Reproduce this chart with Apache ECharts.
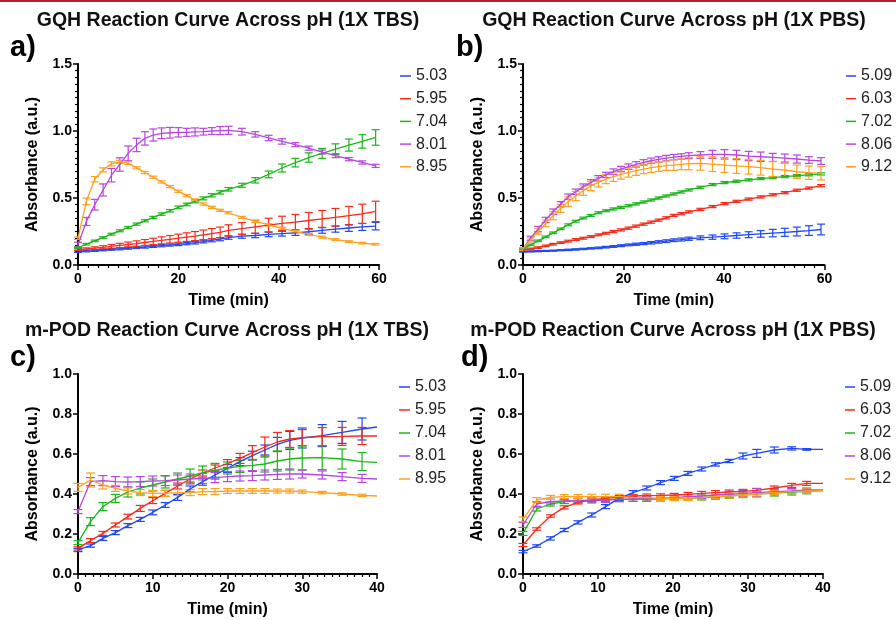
<!DOCTYPE html>
<html><head><meta charset="utf-8">
<script src="https://cdn.jsdelivr.net/npm/echarts/dist/echarts.min.js"></script>
<style>html,body{margin:0;padding:0;background:#fff;}#c{width:896px;height:620px;}</style>
</head><body><div id="c"></div>
<script>
// ---------- Panel a: GQH, 1X TBS ----------
const tA = [0,1.67,3.33,5,6.67,8.33,10,11.67,13.33,15,16.67,18.33,20,21.67,23.33,25,26.67,28.33,30,32.67,35.33,38,40.67,43.33,46,48.67,51.33,54,56.67,59.33];
const aBlue = [0.100,0.104,0.108,0.112,0.116,0.120,0.125,0.130,0.134,0.139,0.144,0.149,0.154,0.160,0.167,0.175,0.184,0.193,0.205,0.215,0.220,0.228,0.234,0.240,0.248,0.258,0.268,0.276,0.284,0.290];
const aBlueErr = [0.006,0.006,0.006,0.006,0.006,0.007,0.007,0.007,0.008,0.008,0.008,0.008,0.009,0.009,0.010,0.010,0.011,0.012,0.013,0.015,0.016,0.017,0.018,0.019,0.020,0.021,0.023,0.025,0.026,0.028];
const aRed = [0.115,0.120,0.126,0.132,0.139,0.146,0.153,0.160,0.168,0.176,0.184,0.192,0.200,0.208,0.216,0.225,0.234,0.243,0.258,0.272,0.285,0.298,0.310,0.320,0.332,0.344,0.356,0.368,0.382,0.400];
const aRedErr = [0.006,0.008,0.010,0.012,0.014,0.016,0.018,0.020,0.022,0.024,0.026,0.028,0.030,0.032,0.034,0.036,0.038,0.040,0.042,0.045,0.048,0.051,0.054,0.057,0.060,0.063,0.066,0.069,0.072,0.076];
const aGreen = [0.130,0.155,0.180,0.205,0.230,0.255,0.280,0.305,0.330,0.355,0.380,0.405,0.430,0.452,0.475,0.497,0.520,0.542,0.565,0.595,0.632,0.676,0.724,0.764,0.802,0.833,0.864,0.895,0.922,0.952];
const aGreenErr = [0.006,0.006,0.006,0.006,0.007,0.007,0.007,0.008,0.008,0.008,0.009,0.009,0.010,0.010,0.011,0.011,0.012,0.012,0.013,0.015,0.020,0.025,0.030,0.032,0.035,0.037,0.040,0.045,0.050,0.058];
const aPurple = [0.150,0.325,0.450,0.560,0.670,0.750,0.833,0.896,0.945,0.970,0.983,0.987,0.990,0.990,0.993,0.995,1.000,1.003,1.005,0.995,0.975,0.948,0.922,0.898,0.872,0.843,0.816,0.790,0.765,0.740];
const aPurpleErr = [0.020,0.030,0.040,0.045,0.050,0.050,0.055,0.050,0.050,0.045,0.040,0.040,0.035,0.030,0.030,0.025,0.025,0.030,0.030,0.025,0.020,0.020,0.020,0.015,0.015,0.015,0.015,0.012,0.012,0.012];
const aOrange = [0.200,0.475,0.640,0.710,0.755,0.770,0.760,0.725,0.690,0.655,0.620,0.585,0.550,0.518,0.485,0.455,0.430,0.408,0.390,0.355,0.326,0.300,0.274,0.250,0.228,0.208,0.190,0.175,0.163,0.155];
const aOrangeErr = [0.010,0.025,0.020,0.015,0.015,0.012,0.010,0.008,0.008,0.008,0.008,0.008,0.008,0.008,0.008,0.008,0.008,0.008,0.008,0.008,0.008,0.008,0.008,0.008,0.008,0.008,0.006,0.006,0.006,0.006];
const aNames = ['5.03','5.95','7.04','8.01','8.95'];

// ---------- Panel b: GQH, 1X PBS ----------
const tB = [0,1.5,3,4.5,6,7.5,9,10.5,12,13.5,15,16.5,18,19.5,21,22.5,24,25.5,27,28.5,30,31.5,33,35.3,37.7,40.1,42.5,44.9,47.3,49.7,52.1,54.5,56.9,59.3];
const bBlue = [0.100,0.101,0.103,0.105,0.107,0.110,0.113,0.116,0.120,0.124,0.128,0.133,0.138,0.144,0.150,0.155,0.160,0.166,0.172,0.178,0.185,0.190,0.196,0.203,0.208,0.214,0.220,0.226,0.232,0.238,0.244,0.250,0.257,0.265];
const bBlueErr = [0.004,0.004,0.004,0.004,0.004,0.004,0.005,0.005,0.005,0.005,0.006,0.006,0.006,0.007,0.007,0.008,0.008,0.009,0.009,0.010,0.010,0.011,0.012,0.014,0.016,0.018,0.020,0.022,0.025,0.028,0.030,0.033,0.036,0.040];
const bRed = [0.110,0.120,0.130,0.143,0.155,0.167,0.178,0.190,0.200,0.212,0.225,0.237,0.250,0.262,0.275,0.290,0.305,0.320,0.335,0.352,0.370,0.383,0.396,0.415,0.436,0.458,0.475,0.492,0.508,0.524,0.540,0.558,0.574,0.592];
const bRedErr = [0.006,0.006,0.006,0.006,0.006,0.006,0.007,0.007,0.007,0.007,0.007,0.007,0.008,0.008,0.008,0.008,0.008,0.008,0.008,0.008,0.008,0.008,0.008,0.008,0.008,0.008,0.008,0.008,0.008,0.008,0.008,0.008,0.008,0.008];
const bGreen = [0.120,0.150,0.180,0.210,0.240,0.270,0.300,0.327,0.350,0.370,0.390,0.405,0.418,0.430,0.442,0.456,0.470,0.485,0.500,0.515,0.530,0.545,0.560,0.580,0.600,0.615,0.625,0.635,0.645,0.652,0.660,0.667,0.673,0.680];
const bGreenErr = [0.006,0.006,0.006,0.006,0.006,0.006,0.007,0.007,0.007,0.007,0.007,0.007,0.008,0.008,0.008,0.008,0.008,0.008,0.008,0.008,0.008,0.008,0.008,0.008,0.008,0.008,0.008,0.008,0.008,0.008,0.008,0.008,0.008,0.008];
const bPurple = [0.120,0.200,0.268,0.336,0.398,0.453,0.510,0.547,0.585,0.617,0.647,0.672,0.697,0.716,0.734,0.751,0.766,0.778,0.788,0.798,0.805,0.810,0.816,0.821,0.826,0.826,0.821,0.813,0.808,0.803,0.798,0.791,0.783,0.776];
const bPurpleErr = [0.010,0.015,0.020,0.020,0.020,0.020,0.020,0.020,0.020,0.020,0.020,0.020,0.020,0.020,0.020,0.020,0.020,0.020,0.020,0.020,0.020,0.020,0.022,0.025,0.030,0.035,0.035,0.035,0.035,0.030,0.030,0.030,0.025,0.025];
const bOrange = [0.120,0.187,0.250,0.311,0.368,0.423,0.473,0.515,0.555,0.590,0.617,0.642,0.659,0.676,0.691,0.704,0.716,0.726,0.734,0.741,0.746,0.751,0.756,0.758,0.753,0.746,0.739,0.734,0.726,0.716,0.709,0.696,0.689,0.684];
const bOrangeErr = [0.010,0.015,0.020,0.025,0.030,0.030,0.035,0.035,0.035,0.035,0.035,0.035,0.035,0.035,0.035,0.035,0.035,0.035,0.035,0.035,0.040,0.040,0.045,0.050,0.055,0.055,0.055,0.055,0.055,0.055,0.050,0.050,0.050,0.050];
const bNames = ['5.09','6.03','7.02','8.06','9.12'];

// ---------- Panel c: m-POD, 1X TBS ----------
const tC = [0,1.67,3.33,5,6.67,8.33,10,11.67,13.33,15,16.67,18.33,20,21.67,23.33,25,26.67,28.33,30,32.67,35.33,38,40];
const cBlue = [0.120,0.142,0.178,0.207,0.242,0.273,0.308,0.345,0.383,0.425,0.462,0.495,0.528,0.562,0.592,0.620,0.648,0.668,0.680,0.692,0.708,0.725,0.735];
const cBlueErr = [0.008,0.008,0.010,0.010,0.010,0.010,0.012,0.012,0.015,0.015,0.018,0.020,0.020,0.020,0.022,0.025,0.035,0.045,0.050,0.055,0.055,0.055,0];
const cRed = [0.128,0.167,0.203,0.245,0.287,0.328,0.367,0.403,0.440,0.475,0.505,0.530,0.552,0.578,0.607,0.635,0.660,0.675,0.682,0.687,0.688,0.690,0.690];
const cRedErr = [0.008,0.010,0.010,0.010,0.012,0.015,0.015,0.015,0.015,0.015,0.015,0.015,0.020,0.025,0.035,0.050,0.048,0.042,0.040,0.045,0.045,0.043,0];
const cGreen = [0.157,0.262,0.337,0.378,0.410,0.430,0.445,0.460,0.475,0.490,0.505,0.518,0.530,0.538,0.543,0.550,0.565,0.575,0.580,0.582,0.575,0.562,0.558];
const cGreenErr = [0.010,0.020,0.020,0.020,0.025,0.030,0.030,0.030,0.030,0.035,0.035,0.035,0.030,0.030,0.030,0.040,0.050,0.055,0.060,0.060,0.050,0.045,0];
const cPurple = [0.312,0.462,0.467,0.462,0.460,0.462,0.465,0.467,0.470,0.475,0.478,0.482,0.487,0.490,0.492,0.495,0.498,0.500,0.500,0.495,0.487,0.478,0.475];
const cPurpleErr = [0.010,0.020,0.025,0.025,0.025,0.025,0.025,0.025,0.025,0.025,0.025,0.025,0.025,0.025,0.025,0.025,0.025,0.025,0.020,0.020,0.020,0.020,0];
const cOrange = [0.433,0.470,0.445,0.428,0.415,0.407,0.403,0.403,0.407,0.407,0.412,0.412,0.415,0.415,0.415,0.415,0.415,0.415,0.412,0.407,0.400,0.393,0.390];
const cOrangeErr = [0.020,0.035,0.020,0.015,0.015,0.015,0.015,0.015,0.015,0.015,0.015,0.015,0.012,0.012,0.012,0.012,0.010,0.010,0.008,0.006,0.006,0.006,0];
const cNames = ['5.03','5.95','7.04','8.01','8.95'];

// ---------- Panel d: m-POD, 1X PBS ----------
const tD = [0,1.83,3.67,5.5,7.33,9.17,11,12.83,14.67,16.5,18.33,20.17,22,23.83,25.67,27.5,29.33,31.17,33.5,35.83,37.83,40];
const dBlue = [0.112,0.140,0.178,0.220,0.258,0.295,0.337,0.378,0.407,0.430,0.457,0.478,0.503,0.525,0.548,0.565,0.590,0.603,0.620,0.628,0.623,0.623];
const dBlueErr = [0.006,0.006,0.008,0.008,0.008,0.010,0.010,0.010,0.010,0.010,0.010,0.010,0.010,0.010,0.008,0.008,0.015,0.020,0.015,0.008,0.004,0];
const dRed = [0.145,0.225,0.290,0.333,0.358,0.370,0.378,0.385,0.390,0.392,0.393,0.395,0.398,0.403,0.407,0.410,0.413,0.418,0.430,0.443,0.453,0.453];
const dRedErr = [0.008,0.006,0.006,0.008,0.008,0.008,0.008,0.008,0.008,0.008,0.008,0.008,0.010,0.010,0.010,0.010,0.010,0.010,0.010,0.010,0.010,0];
const dGreen = [0.203,0.325,0.350,0.362,0.367,0.370,0.372,0.373,0.374,0.375,0.376,0.377,0.378,0.382,0.386,0.390,0.396,0.400,0.405,0.410,0.413,0.417];
const dGreenErr = [0.010,0.010,0.010,0.010,0.010,0.010,0.010,0.010,0.010,0.010,0.010,0.010,0.010,0.012,0.012,0.012,0.014,0.014,0.015,0.015,0.012,0];
const dPurple = [0.245,0.350,0.362,0.365,0.367,0.367,0.370,0.373,0.375,0.375,0.378,0.382,0.387,0.390,0.395,0.398,0.403,0.407,0.412,0.415,0.420,0.420];
const dPurpleErr = [0.012,0.012,0.012,0.012,0.012,0.012,0.012,0.012,0.012,0.012,0.012,0.012,0.012,0.012,0.012,0.015,0.015,0.020,0.015,0.012,0.010,0];
const dOrange = [0.273,0.370,0.383,0.387,0.387,0.387,0.387,0.387,0.383,0.382,0.378,0.378,0.378,0.382,0.387,0.390,0.395,0.400,0.407,0.412,0.415,0.417];
const dOrangeErr = [0.012,0.012,0.010,0.010,0.010,0.012,0.012,0.012,0.010,0.010,0.010,0.010,0.010,0.010,0.010,0.010,0.010,0.010,0.010,0.010,0.010,0];
const dNames = ['5.09','6.03','7.02','8.06','9.12'];

const titles = ['GQH Reaction Curve Across pH (1X TBS)','GQH Reaction Curve Across pH (1X PBS)','m-POD Reaction Curve Across pH (1X TBS)','m-POD Reaction Curve Across pH (1X PBS)'];
const letters = ['a)','b)','c)','d)'];
const xMax = [60,60,40,40];
const xInterval = [20,20,10,10];
const yMax = [1.5,1.5,1.0,1.0];
const yInterval = [0.5,0.5,0.2,0.2];

const COLORS = ['#1f47f2','#f52b1c','#1cb51c','#b546e0','#ffa01f'];
const FONT = '"Liberation Sans", Arial, Helvetica, sans-serif';

const panels = [
  {t:tA, v:[aBlue,aRed,aGreen,aPurple,aOrange], e:[aBlueErr,aRedErr,aGreenErr,aPurpleErr,aOrangeErr], names:aNames},
  {t:tB, v:[bBlue,bRed,bGreen,bPurple,bOrange], e:[bBlueErr,bRedErr,bGreenErr,bPurpleErr,bOrangeErr], names:bNames},
  {t:tC, v:[cBlue,cRed,cGreen,cPurple,cOrange], e:[cBlueErr,cRedErr,cGreenErr,cPurpleErr,cOrangeErr], names:cNames},
  {t:tD, v:[dBlue,dRed,dGreen,dPurple,dOrange], e:[dBlueErr,dRedErr,dGreenErr,dPurpleErr,dOrangeErr], names:dNames}
];

// layout
const gridBoxes = [
  {left:78, top:64, width:301, height:201},
  {left:523, top:64, width:301.5, height:201},
  {left:78, top:374, width:299, height:200},
  {left:523, top:374, width:300, height:200}
];
const legendPos = [
  {left:400, top:68, gap:6.7, w:11},
  {left:846, top:68, gap:6.7, w:10},
  {left:399, top:379, gap:7, w:11},
  {left:845, top:379, gap:7, w:10}
];
const titlePos = [{x:228, y:21},{x:674, y:21},{x:227, y:331},{x:673, y:331}];
const letterPos = [{x:10, y:48},{x:456, y:48},{x:10, y:358},{x:461, y:358}];

function errSeries(gi, t, v, e, color, capHalf) {
  return {
    type: 'custom', name: 'err' + gi + color, xAxisIndex: gi, yAxisIndex: gi, z: 3, silent: true,
    data: t.map((x, k) => [x, v[k], e[k]]),
    encode: {x: 0, y: 1},
    renderItem: function (params, api) {
      const x = api.value(0), y = api.value(1), d = api.value(2);
      if (!d) return null;
      const hi = api.coord([x, y + d]), lo = api.coord([x, y - d]);
      const st = {stroke: color, lineWidth: 1.2};
      return {type: 'group', children: [
        {type: 'line', shape: {x1: hi[0], y1: hi[1], x2: lo[0], y2: lo[1]}, style: st},
        {type: 'line', shape: {x1: hi[0] - capHalf, y1: hi[1], x2: hi[0] + capHalf, y2: hi[1]}, style: st},
        {type: 'line', shape: {x1: lo[0] - capHalf, y1: lo[1], x2: lo[0] + capHalf, y2: lo[1]}, style: st}
      ]};
    }
  };
}

const grid = [], xAxis = [], yAxis = [], series = [], legend = [], graphic = [];
panels.forEach((p, gi) => {
  grid.push(Object.assign({containLabel: false}, gridBoxes[gi]));
  xAxis.push({
    type: 'value', gridIndex: gi, min: 0, max: xMax[gi], interval: xInterval[gi],
    name: 'Time (min)', nameLocation: 'middle', nameGap: 28,
    nameTextStyle: {fontFamily: FONT, fontWeight: 'bold', fontSize: 16, color: '#000'},
    axisLine: {show: true, onZero: false, lineStyle: {color: '#000', width: 2}},
    axisTick: {show: true, length: 5, lineStyle: {color: '#000', width: 1.5}},
    minorTick: {show: true, splitNumber: 10, length: 3, lineStyle: {color: '#000', width: 1.2}},
    splitLine: {show: false}, minorSplitLine: {show: false},
    axisLabel: {fontFamily: FONT, fontWeight: 'bold', fontSize: 14, color: '#000', margin: 7}
  });
  yAxis.push({
    type: 'value', gridIndex: gi, min: 0, max: yMax[gi], interval: yInterval[gi],
    name: 'Absorbance (a.u.)', nameLocation: 'middle', nameGap: 37, nameRotate: 90,
    nameTextStyle: {fontFamily: FONT, fontWeight: 'bold', fontSize: 16, color: '#000'},
    axisLine: {show: true, onZero: false, lineStyle: {color: '#000', width: 2}},
    axisTick: {show: true, length: 5, lineStyle: {color: '#000', width: 1.5}},
    minorTick: {show: gi < 2, splitNumber: 10, length: 3, lineStyle: {color: '#000', width: 1.2}},
    splitLine: {show: false}, minorSplitLine: {show: false},
    axisLabel: {fontFamily: FONT, fontWeight: 'bold', fontSize: 14, color: '#000', margin: 6,
      formatter: v => v.toFixed(1)}
  });
  const capHalf = gi < 2 ? 4 : 4.5;
  p.v.forEach((vals, si) => {
    const color = COLORS[si];
    series.push(errSeries(gi, p.t, vals, p.e[si], color, capHalf));
    series.push({
      type: 'line', name: p.names[si], xAxisIndex: gi, yAxisIndex: gi, z: 4,
      data: p.t.map((x, k) => [x, vals[k]]),
      showSymbol: false, symbol: 'none', smooth: false,
      itemStyle: {color: color}, lineStyle: {color: color, width: 1.3}
    });
  });
  const lp = legendPos[gi];
  legend.push({
    orient: 'vertical', left: lp.left, top: lp.top, padding: 0, itemGap: lp.gap,
    icon: 'rect', itemWidth: lp.w, itemHeight: 1.5, selectedMode: false,
    data: p.names,
    textStyle: {fontFamily: FONT, fontSize: 16, lineHeight: 16, color: '#222'}
  });
  graphic.push({
    type: 'text', left: null, x: titlePos[gi].x, y: titlePos[gi].y,
    style: {text: titles[gi], fontFamily: FONT, fontWeight: 'bold', fontSize: 19.5, fill: '#111',
      textAlign: 'center', textVerticalAlign: 'middle'}
  });
  graphic.push({
    type: 'text', x: letterPos[gi].x, y: letterPos[gi].y,
    style: {text: letters[gi], fontFamily: FONT, fontWeight: 'bold', fontSize: 29, fill: '#000',
      textAlign: 'left', textVerticalAlign: 'middle'}
  });
});
graphic.push({type: 'rect', shape: {x: 0, y: 0, width: 896, height: 2}, style: {fill: '#b91e2b'}});

const chart = echarts.init(document.getElementById('c'), null, {renderer: 'canvas'});
chart.setOption({
  animation: false, backgroundColor: '#fff',
  grid, xAxis, yAxis, series, legend, graphic,
  tooltip: {show: false}
});
</script>
</body></html>
